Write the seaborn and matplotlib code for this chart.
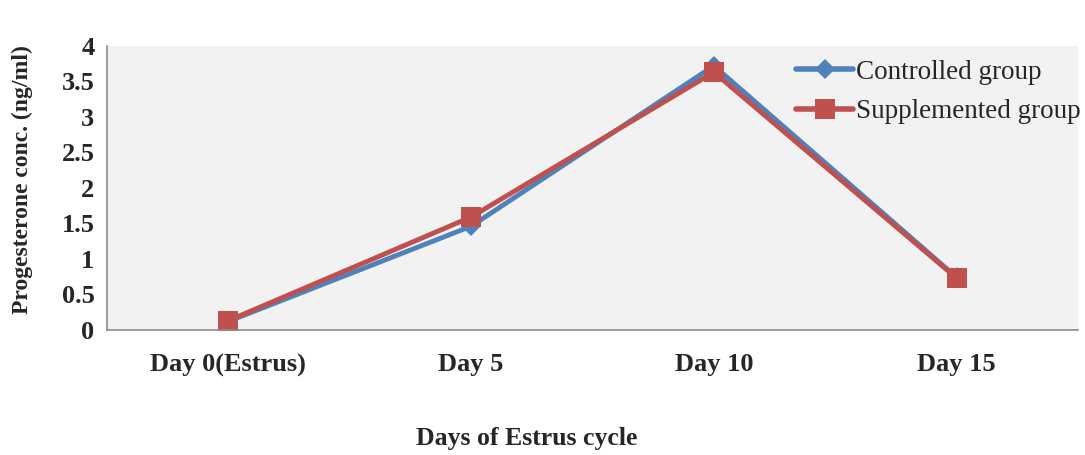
import matplotlib
matplotlib.use("Agg")
import matplotlib.pyplot as plt
import seaborn as sns
import pandas as pd
from matplotlib.ticker import FixedLocator

# Data
days = ["Day 0(Estrus)", "Day 5", "Day 10", "Day 15"]
controlled = [0.12, 1.46, 3.72, 0.74]
supplemented = [0.13, 1.59, 3.63, 0.73]

df = pd.DataFrame({
    "day": days * 2,
    "value": controlled + supplemented,
    "group": ["Controlled group"] * 4 + ["Supplemented group"] * 4,
})

sns.set_style("white")
plt.rcParams["font.family"] = ["Liberation Serif", "DejaVu Serif"]

fig, ax = plt.subplots(figsize=(10.85, 4.55), dpi=100)
fig.subplots_adjust(left=0.0986, right=0.9935, top=0.899, bottom=0.275)
ax.set_facecolor("#f2f2f2")

palette = {"Controlled group": "#4f81bd", "Supplemented group": "#c0504d"}
sns.lineplot(data=df, x="day", y="value", hue="group", style="group",
             markers={"Controlled group": "D", "Supplemented group": "s"},
             dashes=False, palette=palette, linewidth=3.5, markersize=14,
             markeredgewidth=0, sort=False, ax=ax)
# diamonds are drawn a little smaller than the squares
for line in ax.get_lines():
    if line.get_marker() == "D":
        line.set_markersize(10)

ax.set_xlim(-0.5, 3.5)
ax.set_ylim(0, 4)
ax.set_yticks([0, 0.5, 1, 1.5, 2, 2.5, 3, 3.5, 4])
ax.set_yticklabels(["0", "0.5", "1", "1.5", "2", "2.5", "3", "3.5", "4"])
ax.set_xticks(range(4))
ax.set_xticklabels(days)
ax.xaxis.set_minor_locator(FixedLocator([-0.5, 0.5, 1.5, 2.5, 3.5]))
ax.tick_params(axis="x", which="major", length=0, pad=17, labelsize=19)
ax.tick_params(axis="x", which="minor", length=6, color="#8c8c8c", width=1.2)
ax.tick_params(axis="y", length=6, color="#8c8c8c", width=1.2, labelsize=19, pad=3)
for lab in ax.get_xticklabels() + ax.get_yticklabels():
    lab.set_fontweight("bold")

for s in ["top", "right"]:
    ax.spines[s].set_visible(False)
for s in ["left", "bottom"]:
    ax.spines[s].set_color("#8c8c8c")
    ax.spines[s].set_linewidth(1.2)

ax.set_xlabel("")
fig.text(527 / 1085, 1 - 438 / 455, "Days of Estrus cycle", fontsize=18.5,
         fontweight="bold", ha="center", va="center")
ax.set_ylabel("Progesterone conc. (ng/ml)", fontsize=17, fontweight="bold")
ax.yaxis.set_label_coords(-0.076, 0.528)

leg = ax.legend(loc="upper right", frameon=False, fontsize=19.5, handlelength=2.1,
                handletextpad=0.1, borderaxespad=0.05, labelspacing=0.55,
                bbox_to_anchor=(1.015, 0.995))
for h in leg.legend_handles:
    h.set_linewidth(4)

fig.savefig("out.png", dpi=100, facecolor="white")
